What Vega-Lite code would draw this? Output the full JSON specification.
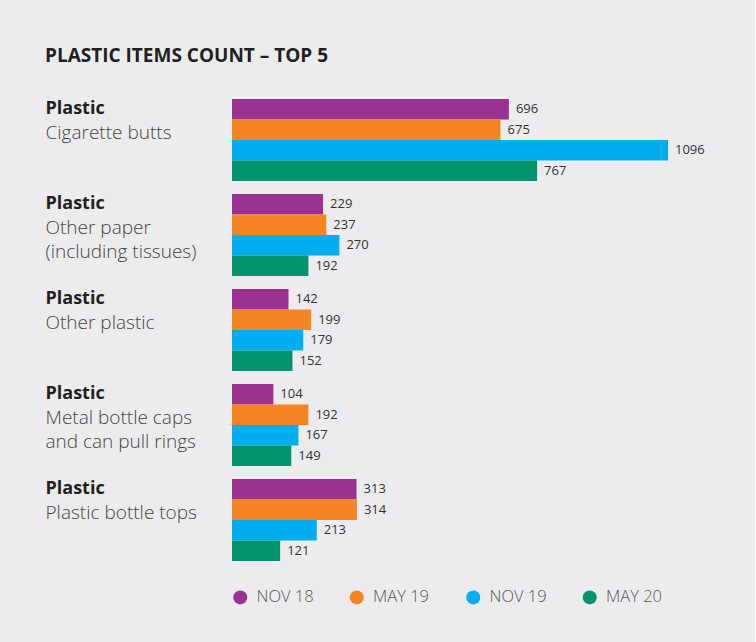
{
  "$schema": "https://vega.github.io/schema/vega-lite/v6.json",
  "background": "#ECECEE",
  "padding": {"left": 45, "top": 47, "right": 50, "bottom": 36},
  "width": 436,
  "height": 462,
  "title": {
    "text": "PLASTIC ITEMS COUNT – TOP 5",
    "anchor": "start",
    "frame": "bounds",
    "font": "Open Sans",
    "fontSize": 19,
    "fontWeight": "bold",
    "color": "#231F20",
    "offset": 33
  },
  "config": {
    "view": {"stroke": null},
    "font": "Open Sans"
  },
  "data": {
    "values": [
      {"item": "Cigarette butts", "period": "NOV 18", "count": 696},
      {"item": "Cigarette butts", "period": "MAY 19", "count": 675},
      {"item": "Cigarette butts", "period": "NOV 19", "count": 1096},
      {"item": "Cigarette butts", "period": "MAY 20", "count": 767},
      {"item": "Other paper|(including tissues)", "period": "NOV 18", "count": 229},
      {"item": "Other paper|(including tissues)", "period": "MAY 19", "count": 237},
      {"item": "Other paper|(including tissues)", "period": "NOV 19", "count": 270},
      {"item": "Other paper|(including tissues)", "period": "MAY 20", "count": 192},
      {"item": "Other plastic", "period": "NOV 18", "count": 142},
      {"item": "Other plastic", "period": "MAY 19", "count": 199},
      {"item": "Other plastic", "period": "NOV 19", "count": 179},
      {"item": "Other plastic", "period": "MAY 20", "count": 152},
      {"item": "Metal bottle caps|and can pull rings", "period": "NOV 18", "count": 104},
      {"item": "Metal bottle caps|and can pull rings", "period": "MAY 19", "count": 192},
      {"item": "Metal bottle caps|and can pull rings", "period": "NOV 19", "count": 167},
      {"item": "Metal bottle caps|and can pull rings", "period": "MAY 20", "count": 149},
      {"item": "Plastic bottle tops", "period": "NOV 18", "count": 313},
      {"item": "Plastic bottle tops", "period": "MAY 19", "count": 314},
      {"item": "Plastic bottle tops", "period": "NOV 19", "count": 213},
      {"item": "Plastic bottle tops", "period": "MAY 20", "count": 121}
    ]
  },
  "encoding": {
    "y": {
      "field": "item",
      "type": "nominal",
      "sort": ["Cigarette butts", "Other paper|(including tissues)", "Other plastic", "Metal bottle caps|and can pull rings", "Plastic bottle tops"],
      "scale": {"paddingInner": 0.137, "paddingOuter": 0},
      "title": null
    },
    "yOffset": {
      "field": "period",
      "type": "nominal",
      "sort": ["NOV 18", "MAY 19", "NOV 19", "MAY 20"],
      "scale": {"paddingInner": 0, "paddingOuter": 0}
    },
    "x": {
      "field": "count",
      "type": "quantitative",
      "scale": {"domain": [0, 1096], "nice": false},
      "axis": null
    }
  },
  "layer": [
    {
      "mark": {"type": "bar"},
      "encoding": {
        "y": {
          "field": "item",
          "type": "nominal",
          "sort": ["Cigarette butts", "Other paper|(including tissues)", "Other plastic", "Metal bottle caps|and can pull rings", "Plastic bottle tops"],
          "title": null,
          "axis": {
            "orient": "left",
            "domain": false,
            "ticks": false,
            "tickSize": 0,
            "labelPadding": 187,
            "labelAlign": "left",
            "labelBaseline": "top",
            "labelOffset": -40,
            "labelExpr": "'Plastic'",
            "labelFont": "Open Sans",
            "labelFontSize": 18,
            "labelFontWeight": "bold",
            "labelColor": "#231F20"
          }
        },
        "color": {
          "field": "period",
          "type": "nominal",
          "sort": ["NOV 18", "MAY 19", "NOV 19", "MAY 20"],
          "scale": {
            "domain": ["NOV 18", "MAY 19", "NOV 19", "MAY 20"],
            "range": ["#993291", "#F58423", "#00AEEF", "#00936E"]
          },
          "legend": {
            "title": null,
            "orient": "bottom",
            "direction": "horizontal",
            "symbolType": "circle",
            "symbolSize": 196,
            "symbolStrokeWidth": 0,
            "labelFont": "Open Sans",
            "labelFontSize": 16.5,
            "labelFontWeight": 300,
            "labelColor": "#555555",
            "labelOffset": 8,
            "columnPadding": 34.5,
            "gridAlign": "all",
            "offset": 28,
            "padding": 0
          }
        }
      }
    },
    {
      "mark": {
        "type": "text",
        "align": "left",
        "baseline": "middle",
        "dx": 7,
        "font": "Open Sans",
        "fontSize": 13,
        "color": "#333333"
      },
      "encoding": {
        "y": {
          "field": "item",
          "type": "nominal",
          "sort": ["Cigarette butts", "Other paper|(including tissues)", "Other plastic", "Metal bottle caps|and can pull rings", "Plastic bottle tops"],
          "title": null,
          "axis": {
            "orient": "left",
            "domain": false,
            "ticks": false,
            "tickSize": 0,
            "labelPadding": 187,
            "labelAlign": "left",
            "labelBaseline": "top",
            "labelOffset": -16,
            "labelLineHeight": 24,
            "labelExpr": "split(datum.value, '|')",
            "labelFont": "Open Sans",
            "labelFontSize": 19,
            "labelFontWeight": 300,
            "labelColor": "#444444",
            "labelLimit": 300
          }
        },
        "text": {"field": "count", "type": "quantitative"}
      }
    }
  ],
  "resolve": {"axis": {"y": "independent"}}
}
